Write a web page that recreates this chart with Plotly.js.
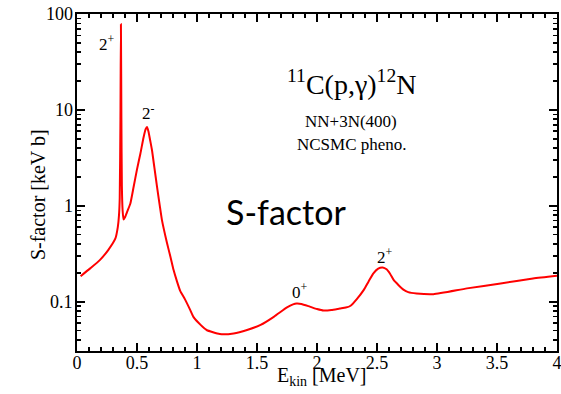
<!DOCTYPE html>
<html>
<head>
<meta charset="utf-8">
<script src="https://cdn.plot.ly/plotly-3.0.1.min.js"></script>
<style>html,body{margin:0;padding:0;background:#fff;}#chart{width:561px;height:394px;}</style>
</head>
<body>
<div id="chart"></div>
<script>
// Energy E_kin [MeV]
const energy = [0.03, 0.11, 0.19, 0.26, 0.32, 0.34, 0.35, 0.356, 0.362, 0.366, 0.370, 0.374, 0.38, 0.388, 0.40, 0.42, 0.444, 0.472, 0.50, 0.528, 0.555, 0.572, 0.583, 0.595, 0.61, 0.625, 0.645, 0.667, 0.69, 0.708, 0.75, 0.78, 0.805, 0.83, 0.86, 0.90, 0.944, 0.97, 1.03, 1.08, 1.19, 1.305, 1.417, 1.53, 1.64, 1.75, 1.80, 1.83, 1.87, 1.94, 2.0, 2.055, 2.12, 2.19, 2.24, 2.28, 2.33, 2.39, 2.43, 2.47, 2.51, 2.547, 2.58, 2.61, 2.64, 2.68, 2.72, 2.76, 2.83, 2.97, 3.25, 3.53, 3.8, 4.0];
// S-factor [keV b]
const sfactor = [0.185, 0.223, 0.272, 0.346, 0.457, 0.60, 0.80, 1.2, 8, 78, 8, 1.6, 0.9, 0.72, 0.76, 0.88, 1.05, 1.58, 2.4, 3.5, 5.2, 6.3, 6.65, 6.0, 4.8, 3.8, 2.5, 1.58, 1.0, 0.71, 0.41, 0.29, 0.214, 0.168, 0.13, 0.106, 0.082, 0.0697, 0.0575, 0.0508, 0.0461, 0.0468, 0.0508, 0.0574, 0.0697, 0.0874, 0.094, 0.096, 0.095, 0.089, 0.084, 0.081, 0.082, 0.085, 0.087, 0.091, 0.106, 0.133, 0.163, 0.198, 0.222, 0.228, 0.218, 0.195, 0.168, 0.149, 0.134, 0.126, 0.122, 0.12, 0.138, 0.155, 0.175, 0.187];
// Resonance labels
const resLabels = ['2<sup>+</sup>', '2<sup>-</sup>', '0<sup>+</sup>', '2<sup>+</sup>'];
const resX = [0.25, 0.594, 1.86, 2.57];
const resY = [49.5, 9.46, 0.129, 0.30];
// Axis ticks
const yTickVals = [0.1, 1, 10, 100];
const yTickText = ['0.1', '1', '10', '100'];
const yMinorVals = [0.04, 0.05, 0.06, 0.07, 0.08, 0.09, 0.2, 0.3, 0.4, 0.5, 0.6, 0.7, 0.8, 0.9, 2, 3, 4, 5, 6, 7, 8, 9, 20, 30, 40, 50, 60, 70, 80, 90];

const serif = "'Liberation Serif', 'Times New Roman', serif";

const trace = {
  x: energy, y: sfactor, type: 'scatter', mode: 'lines',
  line: {color: '#ff0000', width: 2, shape: 'spline', smoothing: 0.5}, hoverinfo: 'skip'
};

const annotations = resLabels.map((t, i) => ({
  text: t, x: resX[i], y: Math.log10(resY[i]), xref: 'x', yref: 'y',
  xanchor: 'center', yanchor: 'middle',
  showarrow: false, font: {family: serif, size: 17, color: '#000'}
}));
// y tick labels placed on the y scale, just left of the axis line
yTickVals.forEach((v, i) => annotations.push({
  text: yTickText[i], x: -0.004, y: Math.log10(v), xref: 'paper', yref: 'y',
  xanchor: 'right', yanchor: 'middle', showarrow: false,
  font: {family: serif, size: 18, color: '#000'}
}));
annotations.push(
  {text: '<sup>11</sup>C(p,γ)<sup>12</sup>N', xref: 'paper', yref: 'paper', x: 0.572, y: 0.797,
   xanchor: 'center', yanchor: 'middle',
   showarrow: false, font: {family: serif, size: 28, color: '#000'}},
  {text: 'NN+3N(400)', xref: 'paper', yref: 'paper', x: 0.571, y: 0.682,
   xanchor: 'center', yanchor: 'middle',
   showarrow: false, font: {family: serif, size: 17, color: '#000'}},
  {text: 'NCSMC pheno.', xref: 'paper', yref: 'paper', x: 0.573, y: 0.614,
   xanchor: 'center', yanchor: 'middle',
   showarrow: false, font: {family: serif, size: 17, color: '#000'}},
  {text: 'S-factor', xref: 'paper', yref: 'paper', x: 0.436, y: 0.413,
   xanchor: 'center', yanchor: 'middle',
   showarrow: false, font: {family: 'Lato, "Open Sans", sans-serif', size: 34, color: '#000'}},
  {text: 'S-factor [keV b]', xref: 'paper', yref: 'paper', x: -0.0796, y: 0.465,
   xanchor: 'center', yanchor: 'middle', textangle: -90,
   showarrow: false, font: {family: serif, size: 20, color: '#000'}},
  {text: 'E<sub>kin</sub> [MeV]', xref: 'paper', yref: 'paper', x: 0.51, y: -0.076,
   xanchor: 'center', yanchor: 'middle',
   showarrow: false, font: {family: serif, size: 20, color: '#000'}}
);

const layout = {
  width: 561, height: 394,
  margin: {l: 77, r: 4, t: 14, b: 43, pad: 0},
  paper_bgcolor: '#fff', plot_bgcolor: '#fff',
  showlegend: false,
  font: {family: serif, color: '#000'},
  xaxis: {
    range: [0, 4], dtick: 0.5, tick0: 0,
    ticks: 'inside', ticklen: 8, tickwidth: 1.5, tickcolor: '#000',
    minor: {dtick: 0.1, ticks: 'inside', ticklen: 4, tickwidth: 1.5, tickcolor: '#000'},
    showline: true, linewidth: 2, linecolor: '#000', mirror: 'allticks',
    showgrid: false, zeroline: false,
    ticklabeloverflow: 'allow', ticklabelstandoff: -6,
    tickfont: {family: serif, size: 18, color: '#000'}
  },
  yaxis: {
    type: 'log', range: [-1.513, 2],
    tickvals: yTickVals, showticklabels: false,
    ticks: 'inside', ticklen: 8, tickwidth: 1.5, tickcolor: '#000',
    minor: {tickvals: yMinorVals, ticks: 'inside', ticklen: 4, tickwidth: 1.5, tickcolor: '#000'},
    showline: true, linewidth: 2, linecolor: '#000', mirror: 'allticks',
    showgrid: false, zeroline: false
  },
  annotations: annotations
};

Plotly.newPlot('chart', [trace], layout, {displayModeBar: false, staticPlot: true});
</script>
</body>
</html>
